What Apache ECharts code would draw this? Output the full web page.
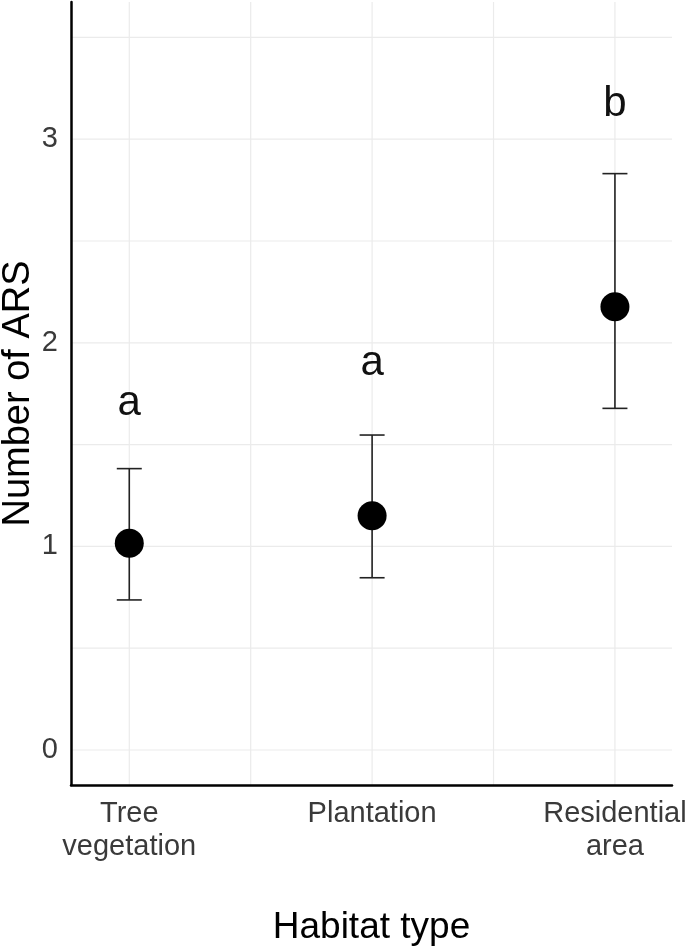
<!DOCTYPE html>
<html><head><meta charset="utf-8">
<script src="https://cdn.jsdelivr.net/npm/echarts@6/dist/echarts.min.js"></script>
<style>html,body{margin:0;padding:0;background:#fff}#c{width:685px;height:949px}</style>
</head><body><div id="c"></div>
<script>
const categories = ['Tree\nvegetation', 'Plantation', 'Residential\narea'];
const meanValues = [1.015, 1.151, 2.177];
const lowerValues = [0.737, 0.846, 1.678];
const upperValues = [1.382, 1.547, 2.831];
const groupLetters = ['a', 'a', 'b'];
const letterY = [1.70, 1.90, 3.17];
const yTickValues = [0, 1, 2, 3];
const yGridValues = [0, 0.5, 1, 1.5, 2, 2.5, 3, 3.5];
const xGridValues = [1, 1.5, 2, 2.5, 3];

const FONT = '"Liberation Sans", Arial, sans-serif';
const chart = echarts.init(document.getElementById('c'), null, {renderer: 'canvas'});

const gridData = yGridValues.map(v => [0, v]).concat(xGridValues.map(v => [1, v]));

chart.setOption({
  animation: false,
  backgroundColor: '#fff',
  grid: {left: 71, right: 13, top: 2, bottom: 164, containLabel: false, outerBoundsMode: 'none'},
  xAxis: {
    type: 'value', min: 0.76, max: 3.235,
    name: 'Habitat type', nameLocation: 'middle', nameGap: 124, nameMoveOverlap: false,
    nameTextStyle: {fontFamily: FONT, fontSize: 37, color: '#000'},
    axisLine: {show: true, onZero: false, lineStyle: {color: '#000', width: 2.5}},
    axisTick: {show: false},
    splitLine: {show: false},
    axisLabel: {
      customValues: [1, 2, 3],
      formatter: v => categories[Math.round(v) - 1],
      fontFamily: FONT, fontSize: 29, color: '#3a3a3a', lineHeight: 33, margin: 12
    }
  },
  yAxis: {
    type: 'value', min: -0.172, max: 3.674,
    name: 'Number of ARS', nameLocation: 'middle', nameGap: 33, nameMoveOverlap: false,
    nameTextStyle: {fontFamily: FONT, fontSize: 38, color: '#000'},
    axisLine: {show: true, onZero: false, lineStyle: {color: '#000', width: 2.5}},
    axisTick: {show: false},
    splitLine: {show: false},
    axisLabel: {
      customValues: yTickValues,
      fontFamily: FONT, fontSize: 29, color: '#3a3a3a', margin: 13
    }
  },
  series: [
    {
      type: 'custom', silent: true, z: 0,
      data: gridData,
      encode: {x: -1, y: -1},
      renderItem: (params, api) => {
        const kind = api.value(0), v = api.value(1);
        const cs = params.coordSys;
        let shape;
        if (kind === 0) {
          const y = api.coord([1, v])[1];
          shape = {x1: cs.x, y1: y, x2: cs.x + cs.width, y2: y};
        } else {
          const x = api.coord([v, 0])[0];
          shape = {x1: x, y1: cs.y, x2: x, y2: cs.y + cs.height};
        }
        return {type: 'line', shape, style: {stroke: '#ebebeb', lineWidth: 1.2}};
      }
    },
    {
      type: 'custom', silent: true, z: 2,
      data: meanValues.map((m, i) => [i + 1, lowerValues[i], upperValues[i]]),
      encode: {x: 0, y: [1, 2]},
      renderItem: (params, api) => {
        const x = api.value(0);
        const lo = api.coord([x, api.value(1)]);
        const hi = api.coord([x, api.value(2)]);
        const hw = 12.5;
        const st = {stroke: '#222', lineWidth: 1.6};
        return {type: 'group', children: [
          {type: 'line', shape: {x1: lo[0], y1: lo[1], x2: hi[0], y2: hi[1]}, style: st},
          {type: 'line', shape: {x1: lo[0] - hw, y1: lo[1], x2: lo[0] + hw, y2: lo[1]}, style: st},
          {type: 'line', shape: {x1: hi[0] - hw, y1: hi[1], x2: hi[0] + hw, y2: hi[1]}, style: st}
        ]};
      }
    },
    {
      type: 'scatter', z: 3, silent: true,
      symbol: 'circle', symbolSize: 29,
      itemStyle: {color: '#000', opacity: 1},
      data: meanValues.map((m, i) => [i + 1, m])
    },
    {
      type: 'scatter', z: 3, silent: true,
      symbolSize: 0, itemStyle: {color: 'rgba(0,0,0,0)'},
      data: letterY.map((y, i) => [i + 1, y]),
      label: {
        show: true, position: 'inside',
        formatter: p => groupLetters[p.dataIndex],
        fontFamily: FONT, fontSize: 42, color: '#111', opacity: 1
      }
    }
  ]
});
</script></body></html>
